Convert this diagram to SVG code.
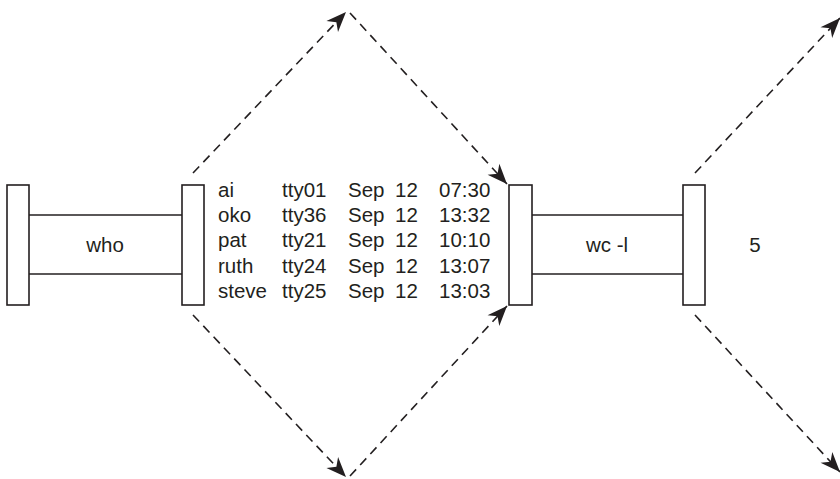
<svg xmlns="http://www.w3.org/2000/svg" width="840" height="479" viewBox="0 0 840 479">
<style>
.cap{fill:#fff;stroke:#231f20;stroke-width:1.6}
.bar{stroke:#231f20;stroke-width:1.6;fill:none}
.t{font-family:"Liberation Sans",Arial,sans-serif;font-size:20.5px;fill:#231f20}
.c{text-anchor:middle}
.d{stroke:#231f20;stroke-width:1.6;fill:none;stroke-dasharray:9 6;marker-end:url(#ah)}
</style>
<defs>
<marker id="ah" markerUnits="userSpaceOnUse" markerWidth="26" markerHeight="22" viewBox="-22 -11 24 22" refX="0" refY="0" orient="auto">
<path d="M0,0 L-20,-8 L-14,0 L-20,8 Z" fill="#231f20"/>
</marker>
</defs>
<rect width="840" height="479" fill="#fff"/>
<g id="who">
<line class="bar" x1="29" y1="215" x2="182" y2="215"/>
<line class="bar" x1="29" y1="274" x2="182" y2="274"/>
<rect class="cap" x="7" y="185" width="22" height="120"/>
<rect class="cap" x="182" y="185" width="22" height="120"/>
<text class="t c" x="105" y="252">who</text>
</g>
<g id="output">
<text class="t" y="197"><tspan x="218">ai</tspan><tspan x="282">tty01</tspan><tspan x="348">Sep</tspan><tspan x="395">12</tspan><tspan x="439">07:30</tspan></text>
<text class="t" y="222"><tspan x="218">oko</tspan><tspan x="282">tty36</tspan><tspan x="348">Sep</tspan><tspan x="395">12</tspan><tspan x="439">13:32</tspan></text>
<text class="t" y="247"><tspan x="218">pat</tspan><tspan x="282">tty21</tspan><tspan x="348">Sep</tspan><tspan x="395">12</tspan><tspan x="439">10:10</tspan></text>
<text class="t" y="273"><tspan x="218">ruth</tspan><tspan x="282">tty24</tspan><tspan x="348">Sep</tspan><tspan x="395">12</tspan><tspan x="439">13:07</tspan></text>
<text class="t" y="298"><tspan x="218">steve</tspan><tspan x="282">tty25</tspan><tspan x="348">Sep</tspan><tspan x="395">12</tspan><tspan x="439">13:03</tspan></text>
</g>
<g id="wc">
<line class="bar" x1="532" y1="215" x2="683" y2="215"/>
<line class="bar" x1="532" y1="274" x2="683" y2="274"/>
<rect class="cap" x="509" y="185" width="23" height="120"/>
<rect class="cap" x="683" y="185" width="22" height="120"/>
<text class="t c" x="607" y="252">wc -l</text>
</g>
<g id="result">
<text class="t c" x="755" y="252">5</text>
</g>
<g id="connectors">
<line class="d" x1="193" y1="173" x2="346" y2="12"/>
<line class="d" x1="350" y1="13" x2="507" y2="184"/>
<line class="d" x1="193" y1="315" x2="346" y2="477"/>
<line class="d" x1="350" y1="476" x2="507" y2="306"/>
<line class="d" x1="695" y1="173" x2="840" y2="18"/>
<line class="d" x1="695" y1="315" x2="840" y2="472"/>
</g>
</svg>
